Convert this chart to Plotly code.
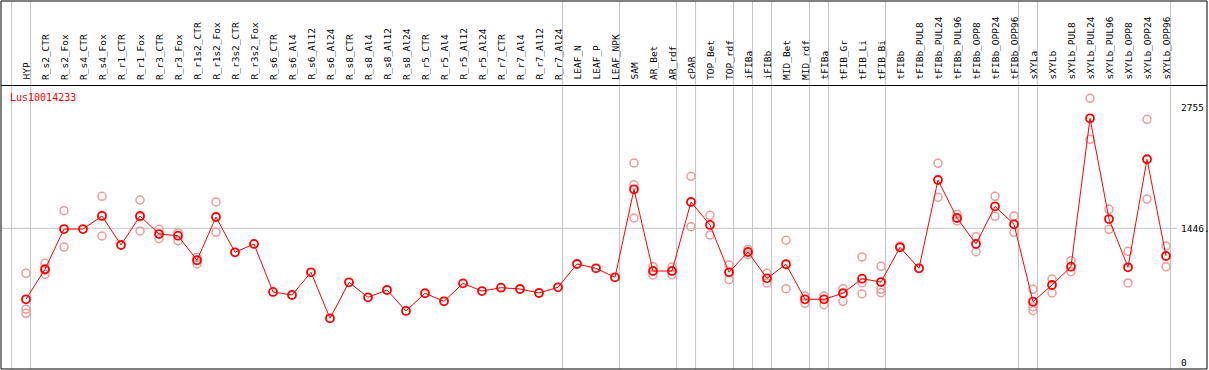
import plotly.graph_objects as go

# ---------------- data ----------------
gene = "Lus10014233"

categories = [
    "HYP", "R_s2_CTR", "R_s2_Fox", "R_s4_CTR", "R_s4_Fox", "R_r1_CTR", "R_r1_Fox",
    "R_r3_CTR", "R_r3_Fox", "R_r1s2_CTR", "R_r1s2_Fox", "R_r3s2_CTR", "R_r3s2_Fox",
    "R_s6_CTR", "R_s6_Al4", "R_s6_Al12", "R_s6_Al24", "R_s8_CTR", "R_s8_Al4",
    "R_s8_Al12", "R_s8_Al24", "R_r5_CTR", "R_r5_Al4", "R_r5_Al12", "R_r5_Al24",
    "R_r7_CTR", "R_r7_Al4", "R_r7_Al12", "R_r7_Al24", "LEAF_N", "LEAF_P", "LEAF_NPK",
    "SAM", "AR_Bet", "AR_rdf", "cPAR", "TOP_Bet", "TOP_rdf", "iFIBa", "iFIBb",
    "MID_Bet", "MID_rdf", "tFIBa", "tFIB_Gr", "tFIB_Li", "tFIB_Bi", "tFIBb",
    "tFIBb_PUL8", "tFIBb_PUL24", "tFIBb_PUL96", "tFIBb_OPP8", "tFIBb_OPP24",
    "tFIBb_OPP96", "sXYLa", "sXYLb", "sXYLb_PUL8", "sXYLb_PUL24", "sXYLb_PUL96",
    "sXYLb_OPP8", "sXYLb_OPP24", "sXYLb_OPP96",
]

mean_values = [
    680, 1004, 1438, 1438, 1579, 1266, 1579, 1384, 1366, 1101, 1568, 1187, 1277,
    759, 726, 971, 475, 863, 701, 780, 554, 745, 658, 852, 769, 805, 791, 748, 809,
    1061, 1014, 917,
    1867, 985, 985, 1730, 1482, 971, 1190, 906, 1058, 680, 680, 745, 902, 866, 1241,
    1014, 1967, 1557, 1277, 1683, 1489,
    654, 834, 1032, 2633, 1546, 1025, 2191, 1147,
]

replicate_values = [
    [960, 572, 529], [1068, 950, 994], [1244, 1636], [], [1791, 1363, 1583], [],
    [1751, 1417, 1569], [1435, 1334], [1399, 1312], [1133, 1061], [1730, 1403], [], [],
    [], [], [], [], [], [], [], [], [], [], [], [], [], [], [], [],
    [], [], [],
    [2151, 1916, 1557], [1032, 942], [1028, 945], [2007, 1463], [1586, 1374],
    [1050, 891], [1219, 1161], [960, 856], [1317, 794], [715, 637], [715, 622],
    [794, 658], [1136, 859, 737], [1036, 788, 751], [1255, 1241],
    [1014], [2147, 1781], [1597, 1525], [1355, 1193], [1791, 1575], [1579, 1403],
    [788, 600, 557], [899, 748], [1096, 978], [2849, 2406], [1651, 1435],
    [1198, 856], [2622, 1762], [1255, 1032],
]

y_tick_values = [2755, 1446, 0]
y_tick_text = ["2755", "1446.", "0"]
reference_line_value = 1446

# categories after which a separator line is drawn (plus one before the first)
group_ends = ["HYP", "R_r7_Al24", "LEAF_NPK", "AR_rdf", "cPAR", "TOP_rdf", "iFIBa",
              "iFIBb", "MID_rdf", "tFIBa", "tFIB_Bi", "tFIBb_OPP96", "sXYLa",
              "sXYLb_OPP96"]

# ---------------- layout constants ----------------
W, H = 1209, 370
ML, MR, MT, MB = 1, 2, 1, 1
PLOT_W = W - ML - MR
PLOT_H = H - MT - MB
X_RANGE = [-1.316, 62.158]
Y_RANGE = [-72.3, 3898.8]
MONO = "DejaVu Sans Mono"


def xpaper_from_data(xd):
    return (xd - X_RANGE[0]) / (X_RANGE[1] - X_RANGE[0])


def xpaper_from_px(px):
    return (px - ML) / PLOT_W


def ypaper_from_px(py):
    return 1 - (py - MT) / PLOT_H


idx = list(range(len(categories)))

rep_x, rep_y = [], []
for i, vals in enumerate(replicate_values):
    for v in vals:
        rep_x.append(i)
        rep_y.append(v)

fig = go.Figure()

fig.add_trace(go.Scatter(
    x=rep_x, y=rep_y, mode="markers",
    marker=dict(symbol="circle-open", size=8, color="#ef9a9a",
                line=dict(width=1.5, color="#ef9a9a")),
    hoverinfo="skip", showlegend=False, cliponaxis=False,
))

fig.add_trace(go.Scatter(
    x=idx, y=mean_values, mode="lines+markers",
    line=dict(color="#ff0000", width=1),
    marker=dict(symbol="circle-open", size=8, color="#ff0000",
                line=dict(width=1.8, color="#ff0000")),
    showlegend=False, cliponaxis=False,
))

shapes = []
# reference gridline
shapes.append(dict(type="line", xref="paper", yref="y",
                   x0=0, x1=xpaper_from_px(1177),
                   y0=reference_line_value, y1=reference_line_value,
                   line=dict(color="#c4c4c4", width=1), layer="below"))
# vertical separators
sep_positions = [-1] + [categories.index(c) for c in group_ends]
for s in sep_positions:
    xp = xpaper_from_data(s + 0.24)
    shapes.append(dict(type="line", xref="paper", yref="paper",
                       x0=xp, x1=xp, y0=0, y1=1,
                       line=dict(color="#c4c4c4", width=1), layer="below"))
# label/plot separator
y_sep = ypaper_from_px(85.5)
shapes.append(dict(type="line", xref="paper", yref="paper", x0=0, x1=1,
                   y0=y_sep, y1=y_sep, line=dict(color="black", width=1)))
# outer box
shapes.append(dict(type="rect", xref="paper", yref="paper", x0=0, x1=1, y0=0, y1=1,
                   line=dict(color="black", width=1)))

annotations = []
label_bottom = ypaper_from_px(82)
for i, c in enumerate(categories):
    annotations.append(dict(
        x=i, xref="x", y=label_bottom, yref="paper", text=c, textangle=-90,
        showarrow=False, xanchor="center", yanchor="bottom",
        font=dict(family=MONO, size=9.5, color="black"),
    ))

for v, t in zip(y_tick_values, y_tick_text):
    annotations.append(dict(
        x=xpaper_from_px(1179), xref="paper", y=v, yref="y", text=t,
        showarrow=False, xanchor="left", yanchor="middle",
        font=dict(family=MONO, size=9.5, color="black"),
    ))

annotations.append(dict(
    x=xpaper_from_px(8), xref="paper", y=ypaper_from_px(97), yref="paper",
    text=gene, showarrow=False, xanchor="left", yanchor="middle",
    font=dict(family=MONO, size=10, color="#ff0000"),
))

fig.update_layout(
    width=W, height=H,
    margin=dict(l=ML, r=MR, t=MT, b=MB, pad=0),
    paper_bgcolor="white", plot_bgcolor="white",
    xaxis=dict(range=X_RANGE, showgrid=False, zeroline=False, showticklabels=False,
               ticks="", showline=False, fixedrange=True),
    yaxis=dict(range=Y_RANGE, showgrid=False, zeroline=False, showticklabels=False,
               ticks="", showline=False, fixedrange=True),
    shapes=shapes, annotations=annotations, showlegend=False,
)

fig.write_html(
    "out.html",
    config={"displayModeBar": False},
    post_script="document.body.style.margin='0';document.body.style.overflow='hidden';",
)
